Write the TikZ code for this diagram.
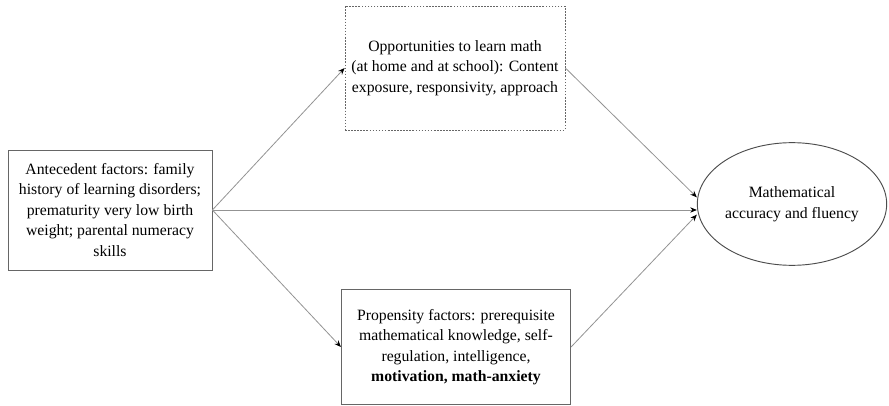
\documentclass[tikz,border=0pt]{standalone}
\usepackage{fontspec}
\setmainfont{Liberation Serif}
\usepackage{tikz}
\usetikzlibrary{arrows.meta, shapes.geometric}

\begin{document}
\begin{tikzpicture}[>={Stealth[length=5pt, width=4pt, black]}, x=0.75pt, y=-0.75pt, every node/.style={font=\fontsize{11.8}{15.4}\selectfont}]
\tikzset{
  factbox/.style={draw=gray!80!black, line width=0.6pt, align=center, inner sep=0pt},
  optbox/.style={factbox, dash pattern=on 1.2pt off 1.1pt},
  outcell/.style={ellipse, draw=gray!60!black, line width=0.7pt, align=center, inner sep=0pt},
  link/.style={->, draw=gray!85, line width=0.6pt},
}
\useasboundingbox (0,0) rectangle (889,406);
% boxes
\node[factbox, minimum width=153pt, minimum height=90pt] (ante) at (110,210) {Antecedent factors: family\\history of learning disorders;\\prematurity very low birth\\weight; parental numeracy\\skills};
\node[optbox, minimum width=165pt, minimum height=93pt] (opp) at (455,68) {Opportunities to learn math\\(at home and at school): Content\\exposure, responsivity, approach};
\node[factbox, minimum width=172pt, minimum height=86pt] (prop) at (456,347) {Propensity factors: prerequisite\\mathematical knowledge, self-\\regulation, intelligence,\\\textbf{motivation, math-anxiety}};
\node[outcell, minimum width=142pt, minimum height=92pt] (math) at (792,204) {Mathematical\\accuracy and fluency};
% arrows
\coordinate (mid) at (ante.east -| math.west);
\draw[link] (ante.east) -- (opp.west);
\draw[link] (ante.east) -- (prop.west);
\draw[link] (ante.east) -- (mid);
\draw[link] (opp.east) -- ([yshift=5pt]math.west);
\draw[link] (prop.east) -- ([yshift=-8pt]math.west);
\end{tikzpicture}
\end{document}
